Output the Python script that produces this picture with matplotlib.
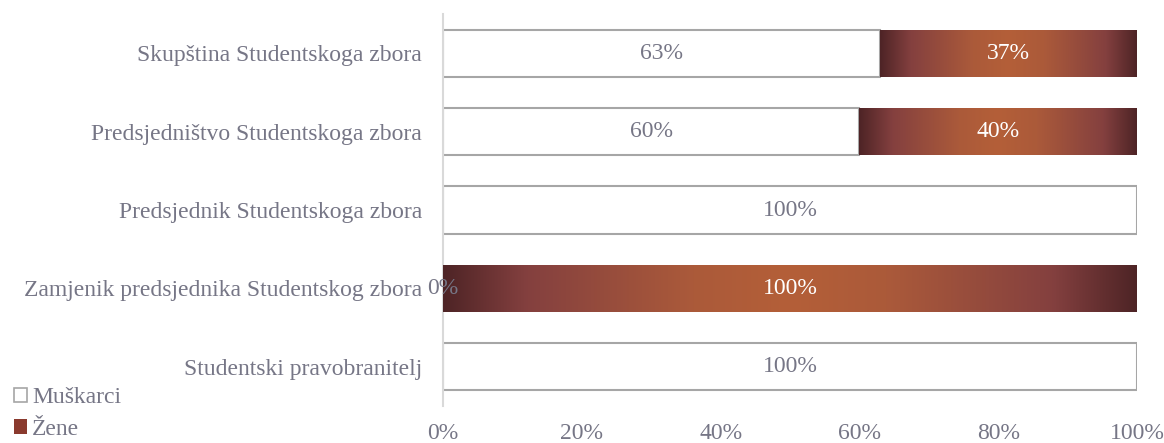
import matplotlib
matplotlib.use("Agg")
import matplotlib.pyplot as plt
import numpy as np
from matplotlib.colors import LinearSegmentedColormap
from matplotlib.patches import Rectangle

categories = ["Skupština Studentskoga zbora",
              "Predsjedništvo Studentskoga zbora",
              "Predsjednik Studentskoga zbora",
              "Zamjenik predsjednika Studentskog zbora",
              "Studentski pravobranitelj"]
muskarci = [63, 60, 100, 0, 100]
zene = [37, 40, 0, 100, 0]
xticks = [0, 20, 40, 60, 80, 100]
xticklabels = ["0%", "20%", "40%", "60%", "80%", "100%"]

plt.rcParams['font.family'] = ['Liberation Serif', 'DejaVu Serif']
txt = '#767686'
edge = '#a6a6a6'
fs = 17

fig = plt.figure(figsize=(11.64, 4.43), dpi=100)
ax = fig.add_axes([443/1164, 37/443, 694/1164, 392/443])

cmap = LinearSegmentedColormap.from_list('g', [
    (0.0, '#4e2426'), (0.12, '#84403f'), (0.36, '#ab5a3a'), (0.5, '#b45f38'),
    (0.64, '#ab5a3a'), (0.88, '#84403f'), (1.0, '#4e2426')])

ypos = np.arange(len(categories))
h = 0.6
ax.set_xlim(0, 100)
ax.set_ylim(len(categories) - 0.5, -0.5)

for i, (m, z) in enumerate(zip(muskarci, zene)):
    if m > 0:
        ax.barh(i, m, height=h, color='white', edgecolor=edge, linewidth=1.5, zorder=2)
        ax.text(m / 2, i, f"{m}%", ha='center', va='center', fontsize=fs, color=txt, zorder=5)
    if z > 0:
        bars = ax.barh(i, z, left=m, height=h, color='none', edgecolor='none', zorder=3)
        rect = bars[0]
        xs = np.linspace(0, 1, 256)
        vals = xs[np.newaxis, :]
        img = ax.imshow(vals, cmap=cmap, aspect='auto',
                        extent=[m, m + z, i + h / 2, i - h / 2], zorder=3,
                        interpolation='bilinear')
        img.set_clip_path(rect)
        ax.text(m + z / 2, i, f"{z}%", ha='center', va='center', fontsize=fs, color='white', zorder=5)
    if m == 0:
        ax.text(0, i, "0%", ha='center', va='center', fontsize=fs, color=txt, zorder=6)

ax.set_xlim(0, 100)
ax.set_ylim(len(categories) - 0.5, -0.5)
ax.set_yticks(ypos)
ax.set_yticklabels(categories)
ax.set_xticks(xticks)
ax.set_xticklabels(xticklabels)
ax.tick_params(axis='both', length=0, labelsize=fs, colors=txt)
ax.tick_params(axis='y', pad=15)
ax.tick_params(axis='x', pad=12)
for s in ['top', 'right', 'bottom']:
    ax.spines[s].set_visible(False)
ax.spines['left'].set_color('#d9d9d9')
ax.spines['left'].set_linewidth(1.5)

# Legend
handles = [Rectangle((0, 0), 1, 1, facecolor='white', edgecolor='#a6a6a6', linewidth=1.2),
           Rectangle((0, 0), 1, 1, facecolor='#8a3a2e', edgecolor='none')]
fig.legend(handles, ["Muškarci", "Žene"], loc='lower left', bbox_to_anchor=(0.0, -0.025),
           frameon=False, fontsize=fs, labelcolor=txt, handlelength=0.55, handleheight=0.55,
           handletextpad=0.2, labelspacing=0.45, borderaxespad=0.2)

fig.savefig("out.png", dpi=100)
